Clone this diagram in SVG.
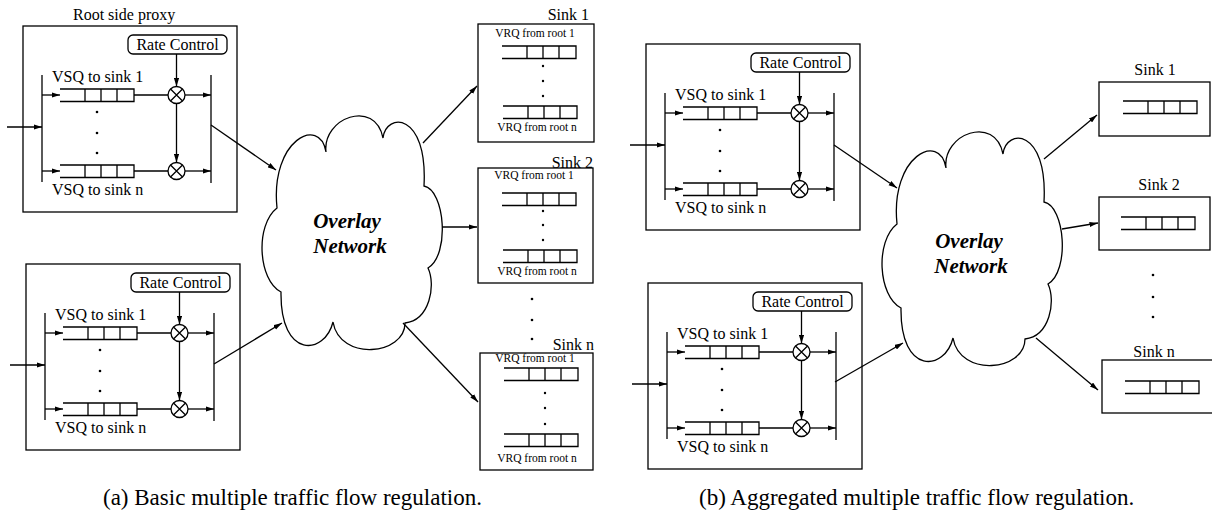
<svg xmlns="http://www.w3.org/2000/svg" xmlns:xlink="http://www.w3.org/1999/xlink" width="1212" height="513" viewBox="0 0 1212 513">
  <style>
    .ln { fill: none; stroke: #000; stroke-width: 1.3; }
    .box { fill: #fff; stroke: #000; stroke-width: 1.3; }
    .dot { fill: #000; }
    .t16 { font-family: "Liberation Serif", "Times New Roman", serif; font-size: 16px; fill: #000; }
    .t11 { font-family: "Liberation Serif", "Times New Roman", serif; font-size: 11.5px; fill: #000; }
    .cloudtxt { font-family: "Liberation Serif", "Times New Roman", serif; font-size: 21px; font-weight: bold; font-style: italic; fill: #000; }
    .cap { font-family: "Liberation Serif", "Times New Roman", serif; font-size: 23px; fill: #000; }
    .arr { marker-end: url(#ah); }
  </style>
  <defs>
    <marker id="ah" viewBox="0 0 10 6" refX="10" refY="3" markerWidth="8.5" markerHeight="5.5" markerUnits="userSpaceOnUse" orient="auto">
      <path d="M0,0 L10,3 L0,6 z" fill="#000"/>
    </marker>

    <!-- queue with open left end: 4 cells, first one longer -->
    <path id="queue" d="M0,0 H74 V12.5 H0 M25,0 V12.5 M41,0 V12.5 M57,0 V12.5"/>

    <!-- rate multiplier: circle with a cross -->
    <g id="mult">
      <circle cx="0" cy="0" r="8.5" class="box"/>
      <path class="ln" d="M-6,-6 L6,6 M6,-6 L-6,6"/>
    </g>

    <!-- root side proxy: splitter, per-sink queues, rate control, merger -->
    <g id="proxy">
      <rect x="0" y="0" width="214" height="186" class="box"/>
      <rect x="105" y="9" width="99" height="19" rx="5" class="box"/>
      <text x="154.5" y="24" class="t16" text-anchor="middle">Rate Control</text>
      <line class="ln" x1="19" y1="49" x2="19" y2="156"/>
      <line class="ln" x1="188" y1="49" x2="188" y2="157"/>
      <line class="ln arr" x1="-16" y1="101" x2="19" y2="101"/>
      <!-- first queue -->
      <line class="ln arr" x1="19" y1="69" x2="37" y2="69"/>
      <use xlink:href="#queue" x="37" y="63" class="ln"/>
      <line class="ln" x1="111" y1="69" x2="145" y2="69"/>
      <use xlink:href="#mult" x="153.5" y="69"/>
      <line class="ln arr" x1="162" y1="69" x2="188" y2="69"/>
      <!-- last queue -->
      <line class="ln arr" x1="19" y1="145" x2="37" y2="145"/>
      <use xlink:href="#queue" x="37" y="139" class="ln"/>
      <line class="ln" x1="111" y1="145" x2="145" y2="145"/>
      <use xlink:href="#mult" x="153.5" y="145"/>
      <line class="ln arr" x1="162" y1="145" x2="188" y2="145"/>
      <!-- control path -->
      <line class="ln arr" x1="153.5" y1="28" x2="153.5" y2="60.5"/>
      <line class="ln arr" x1="153.5" y1="77.5" x2="153.5" y2="136.5"/>
      <circle class="dot" cx="74" cy="86" r="1.3"/>
      <circle class="dot" cx="74" cy="107" r="1.3"/>
      <circle class="dot" cx="74" cy="127" r="1.3"/>
      <text x="29" y="56" class="t16">VSQ to sink 1</text>
      <text x="29" y="169" class="t16">VSQ to sink n</text>
    </g>

    <!-- overlay network cloud outline -->
    <path id="cloud" class="box" d="M277,208 C270,140 320,115 326,152 C322,118 375,98 383,138 C386,112 428,112 424,186 C445,190 450,255 428,268 C436,285 430,320 405,323 C405,355 340,362 333,322 C325,355 280,360 281,292 C258,280 255,225 277,208 Z"/>
  </defs>

  <!-- (a) basic multiple traffic flow regulation -->
  <text x="73" y="20" class="t16">Root side proxy</text>
  <g id="proxy-a1"><use xlink:href="#proxy" x="23" y="26"/></g>
  <g id="proxy-a2"><use xlink:href="#proxy" x="26" y="264"/></g>

  <g id="cloud-a">
    <use xlink:href="#cloud"/>
    <text x="347" y="228" class="cloudtxt" text-anchor="middle">Overlay</text>
    <text x="350" y="253" class="cloudtxt" text-anchor="middle">Network</text>
  </g>

  <g id="sink-a1">
    <rect x="478" y="24" width="116" height="118" class="box"/>
    <text x="589" y="20" class="t16" text-anchor="end">Sink 1</text>
    <text x="535" y="37" class="t11" text-anchor="middle">VRQ from root 1</text>
    <use xlink:href="#queue" x="502" y="46" class="ln"/>
    <circle class="dot" cx="543" cy="66" r="1.2"/>
    <circle class="dot" cx="543" cy="81" r="1.2"/>
    <circle class="dot" cx="543" cy="96" r="1.2"/>
    <use xlink:href="#queue" x="503" y="106" class="ln"/>
    <text x="537" y="131" class="t11" text-anchor="middle">VRQ from root n</text>
  </g>

  <g id="sink-a2">
    <rect x="478" y="168" width="115" height="115" class="box"/>
    <text x="593" y="168" class="t16" text-anchor="end">Sink 2</text>
    <text x="534" y="179" class="t11" text-anchor="middle">VRQ from root 1</text>
    <use xlink:href="#queue" x="502" y="193" class="ln"/>
    <circle class="dot" cx="543" cy="211" r="1.2"/>
    <circle class="dot" cx="543" cy="225" r="1.2"/>
    <circle class="dot" cx="543" cy="240" r="1.2"/>
    <use xlink:href="#queue" x="503" y="250" class="ln"/>
    <text x="537" y="275" class="t11" text-anchor="middle">VRQ from root n</text>
  </g>

  <g id="sink-a-gap">
    <circle class="dot" cx="532" cy="299" r="1.3"/>
    <circle class="dot" cx="532" cy="320" r="1.3"/>
    <circle class="dot" cx="532" cy="339" r="1.3"/>
  </g>

  <g id="sink-an">
    <rect x="480" y="353" width="113" height="117" class="box"/>
    <text x="594" y="350" class="t16" text-anchor="end">Sink n</text>
    <text x="535" y="362" class="t11" text-anchor="middle">VRQ from root 1</text>
    <use xlink:href="#queue" x="504" y="368" class="ln"/>
    <circle class="dot" cx="545" cy="393" r="1.2"/>
    <circle class="dot" cx="545" cy="408" r="1.2"/>
    <circle class="dot" cx="545" cy="424" r="1.2"/>
    <use xlink:href="#queue" x="504" y="434" class="ln"/>
    <text x="537" y="462" class="t11" text-anchor="middle">VRQ from root n</text>
  </g>

  <!-- (b) aggregated multiple traffic flow regulation -->
  <g id="proxy-b1"><use xlink:href="#proxy" x="646" y="44"/></g>
  <g id="proxy-b2"><use xlink:href="#proxy" x="648" y="283"/></g>

  <g id="cloud-b">
    <use xlink:href="#cloud" x="620" y="16"/>
    <text x="969" y="248" class="cloudtxt" text-anchor="middle">Overlay</text>
    <text x="971" y="273" class="cloudtxt" text-anchor="middle">Network</text>
  </g>

  <g id="sink-b1">
    <rect x="1099" y="82" width="111" height="54" class="box"/>
    <text x="1155" y="75" class="t16" text-anchor="middle">Sink 1</text>
    <use xlink:href="#queue" x="1123" y="101" class="ln"/>
  </g>

  <g id="sink-b2">
    <rect x="1099" y="197" width="111" height="53" class="box"/>
    <text x="1159" y="190" class="t16" text-anchor="middle">Sink 2</text>
    <use xlink:href="#queue" x="1121" y="217" class="ln"/>
  </g>

  <g id="sink-b-gap">
    <circle class="dot" cx="1153" cy="275" r="1.3"/>
    <circle class="dot" cx="1153" cy="297" r="1.3"/>
    <circle class="dot" cx="1153" cy="317" r="1.3"/>
  </g>

  <g id="sink-bn">
    <rect x="1102" y="360" width="113" height="53" class="box"/>
    <text x="1154" y="357" class="t16" text-anchor="middle">Sink n</text>
    <use xlink:href="#queue" x="1125" y="381" class="ln"/>
  </g>

  <!-- flows between proxies, overlay and sinks -->
  <g id="connectors" class="ln">
    <line class="arr" x1="211" y1="125" x2="276" y2="170"/>
    <line class="arr" x1="214" y1="364" x2="282" y2="323"/>
    <line class="arr" x1="423" y1="143" x2="477" y2="86"/>
    <line class="arr" x1="442" y1="227" x2="477" y2="227"/>
    <line class="arr" x1="403" y1="323" x2="478" y2="402"/>

    <line class="arr" x1="834" y1="145" x2="897" y2="188"/>
    <line class="arr" x1="835" y1="382" x2="903" y2="343"/>
    <line class="arr" x1="1044" y1="159" x2="1097" y2="115"/>
    <line class="arr" x1="1062" y1="229" x2="1098" y2="223"/>
    <line class="arr" x1="1036" y1="338" x2="1098" y2="390"/>
  </g>

  <text x="103" y="505" class="cap">(a) Basic multiple traffic flow regulation.</text>
  <text x="699" y="505" class="cap">(b) Aggregated multiple traffic flow regulation.</text>
</svg>
